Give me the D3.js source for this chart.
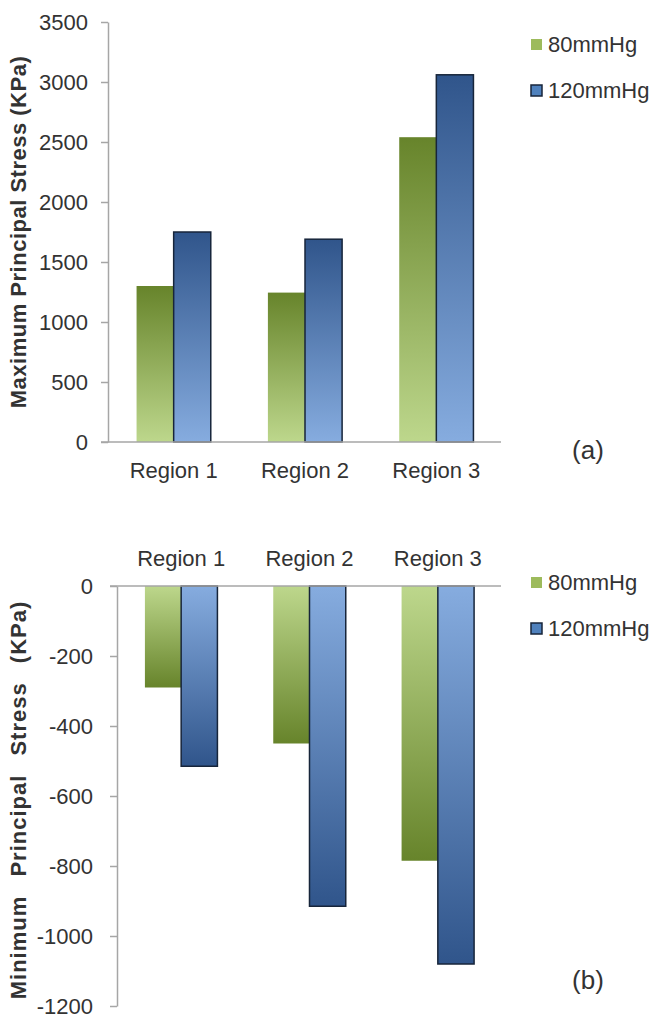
<!DOCTYPE html>
<html>
<head>
<meta charset="utf-8">
<script src="https://cdn.jsdelivr.net/npm/d3@7"></script>
<style>
  body { margin: 0; background: #fff; }
  text { font-family: "Liberation Sans", Arial, sans-serif; fill: #333; }
</style>
</head>
<body>
<div id="chart"></div>
<script>
var width = 658;
var height = 1020;

var categories = ["Region 1", "Region 2", "Region 3"];
var series = ["80mmHg", "120mmHg"];
var maxStress80 = [1300, 1245, 2540];
var maxStress120 = [1750, 1690, 3060];
var minStress80 = [-290, -450, -785];
var minStress120 = [-515, -915, -1080];
var ticksMax = [0, 500, 1000, 1500, 2000, 2500, 3000, 3500];
var ticksMin = [0, -200, -400, -600, -800, -1000, -1200];

var svg = d3.select("#chart").append("svg")
  .attr("width", width)
  .attr("height", height)

var defs = svg.append("defs");

// gradients: light at the zero line, dark at the bar end
function grad(id, top, bottom) {
  var g = defs.append("linearGradient")
    .attr("id", id)
    .attr("x1", 0).attr("y1", 0).attr("x2", 0).attr("y2", 1)
  g.append("stop").attr("offset", "0%").attr("stop-color", top)
  g.append("stop").attr("offset", "100%").attr("stop-color", bottom)
}
grad("greenUp", "#67842b", "#bdd78c")
grad("blueUp", "#30558b", "#86acdf")
grad("greenDown", "#bdd78c", "#67842b")
grad("blueDown", "#86acdf", "#30558b")

function rows(a, b) {
  return categories.map(function(c, i) {
    return { cat: c, values: [{ s: series[0], v: a[i] }, { s: series[1], v: b[i] }] }
  })
}

function drawChart(opts) {
  var g = svg.append("g")

  var x0 = d3.scaleBand()
    .domain(categories)
    .range([opts.left, opts.right])
    .paddingInner(0.435)
    .paddingOuter(0.2175)
  var x1 = d3.scaleBand()
    .domain(series)
    .range([0, x0.bandwidth()])
  var y = d3.scaleLinear()
    .domain(opts.domain)
    .range(opts.yRange)

  // y axis
  var yAxis = g.append("g")
    .attr("transform", "translate(" + opts.left + ",0)")
    .call(d3.axisLeft(y).tickValues(opts.ticks)
      .tickFormat(function(d) { return String(d) })
      .tickSize(7).tickSizeOuter(0).tickPadding(opts.pad))
  yAxis.select(".domain").attr("stroke", "#a6a6a6").attr("stroke-width", 1.5)
  yAxis.selectAll(".tick line").attr("stroke", "#a6a6a6").attr("stroke-width", 1.5)
  yAxis.selectAll(".tick text")
    .attr("font-size", "22px")
    .attr("fill", "#333")
    .style("font-family", "'Liberation Sans', Arial, sans-serif")

  // bars
  var grp = g.selectAll("g.grp")
    .data(rows(opts.a, opts.b))
    .enter().append("g")
    .attr("class", "grp")
    .attr("transform", function(d) { return "translate(" + x0(d.cat) + ",0)" })

  grp.selectAll("rect")
    .data(function(d) { return d.values })
    .enter().append("rect")
    .attr("x", function(d) { return x1(d.s) })
    .attr("width", x1.bandwidth())
    .attr("y", function(d) { return Math.min(y(0), y(d.v)) })
    .attr("height", function(d) { return Math.abs(y(d.v) - y(0)) })
    .attr("fill", function(d) {
      var c = d.s == series[0] ? "green" : "blue"
      return "url(#" + c + (d.v >= 0 ? "Up" : "Down") + ")"
    })
    .attr("stroke", function(d) { return d.s == series[0] ? "none" : "#17253a" })
    .attr("stroke-width", 1.5)

  // zero line
  g.append("line")
    .attr("x1", opts.left - 7)
    .attr("x2", opts.right - 1)
    .attr("y1", y(0))
    .attr("y2", y(0))
    .attr("stroke", "#a6a6a6")
    .attr("stroke-width", 1.5)

  // category labels
  g.selectAll("text.cat")
    .data(categories)
    .enter().append("text")
    .attr("class", "cat")
    .attr("x", function(d) { return x0(d) + x0.bandwidth() / 2 })
    .attr("y", opts.catY)
    .attr("text-anchor", "middle")
    .attr("font-size", "22px")
    .text(function(d) { return d })

  // y title
  g.append("text")
    .attr("transform", "translate(26," + opts.titleY + ") rotate(-90)")
    .attr("text-anchor", "middle")
    .attr("font-size", "22px")
    .attr("font-weight", "bold")
    .attr("letter-spacing", opts.ls)
    .attr("word-spacing", opts.ws)
    .text(opts.title)

  // legend
  var leg = g.selectAll("g.leg")
    .data(series)
    .enter().append("g")
    .attr("class", "leg")
    .attr("transform", function(d, i) { return "translate(531," + (opts.legY + i * 46) + ")" })
  leg.append("rect")
    .attr("x", 0).attr("y", -5)
    .attr("width", 11).attr("height", 11)
    .attr("fill", function(d, i) { return i == 0 ? "#9dbb5c" : "#4f81bd" })
    .attr("stroke", function(d, i) { return i == 0 ? "none" : "#17253a" })
    .attr("stroke-width", 1.5)
  leg.append("text")
    .attr("x", 17)
    .attr("y", 8)
    .attr("font-size", "22px")
    .text(function(d) { return d })

  // panel letter
  g.append("text")
    .attr("x", 588)
    .attr("y", opts.letterY)
    .attr("text-anchor", "middle")
    .attr("font-size", "26px")
    .text(opts.letter)
}

drawChart({
  left: 108, right: 502,
  domain: [0, 3500], yRange: [442, 22],
  ticks: ticksMax, pad: 13,
  a: maxStress80, b: maxStress120,
  catY: 478, titleY: 232, ls: 0.5, ws: 0,
  title: "Maximum Principal Stress (KPa)",
  legY: 44, letter: "(a)", letterY: 459
})

drawChart({
  left: 117, right: 502,
  domain: [-1200, 0], yRange: [1006, 586],
  ticks: ticksMin, pad: 17,
  a: minStress80, b: minStress120,
  catY: 566, titleY: 800, ls: 1, ws: 12,
  title: "Minimum Principal Stress (KPa)",
  legY: 582, letter: "(b)", letterY: 989
})
</script>
</body>
</html>
